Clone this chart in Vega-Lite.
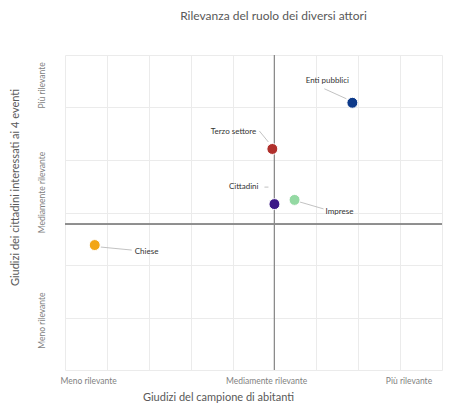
{
  "$schema": "https://vega.github.io/schema/vega-lite/v6.json",
  "autosize": "none",
  "width": 377,
  "height": 315,
  "padding": {"left": 65, "top": 55, "right": 8, "bottom": 36},
  "background": "white",
  "config": {
    "view": {"stroke": null},
    "font": "Lato",
    "axis": {"labelFont": "Lato", "titleFont": "Lato"}
  },
  "title": {
    "text": "Rilevanza del ruolo dei diversi attori",
    "fontSize": 12,
    "fontWeight": "normal",
    "color": "#595959",
    "font": "Lato",
    "offset": 32,
    "dx": 20
  },
  "data": {
    "values": [
      {"attore": "Enti pubblici", "x": 1.86, "y": 5.09},
      {"attore": "Terzo settore", "x": -0.05, "y": 4.21},
      {"attore": "Cittadini", "x": 0.0, "y": 3.16},
      {"attore": "Imprese", "x": 0.48, "y": 3.24},
      {"attore": "Chiese", "x": -4.29, "y": 2.38}
    ]
  },
  "resolve": {"axis": {"x": "independent", "y": "independent"}},
  "layer": [
    {
      "mark": {"type": "point", "opacity": 0},
      "encoding": {
        "x": {"field": "x", "type": "quantitative", "scale": {"domain": [-5, 4], "nice": false, "zero": false},
          "axis": {"orient": "top", "values": [-5,-4,-3,-2,-1,0,1,2,3,4], "grid": true, "gridColor": "#ebebeb", "labels": false, "ticks": false, "domain": false, "title": null}},
        "y": {"field": "y", "type": "quantitative", "scale": {"domain": [0, 6], "nice": false, "zero": false},
          "axis": {"orient": "right", "values": [0,1,2,3,4,5,6], "grid": true, "gridColor": "#ebebeb", "labels": false, "ticks": false, "domain": false, "title": null}}
      }
    },
    {
      "mark": {"type": "rule", "color": "#8c8c8c", "strokeWidth": 1},
      "encoding": {"x": {"datum": 0, "type": "quantitative", "axis": null}}
    },
    {
      "mark": {"type": "rule", "color": "#8c8c8c", "strokeWidth": 1},
      "encoding": {"y": {"datum": 2.78, "type": "quantitative", "axis": null}}
    },
    {
      "transform": [{"filter": "datum.attore == 'Enti pubblici'"}],
      "mark": {"type": "rule", "color": "#b3b3b3", "strokeWidth": 0.8, "xOffset": -28, "yOffset": -14, "x2Offset": -6, "y2Offset": -4},
      "encoding": {"x": {"field": "x", "type": "quantitative", "axis": null}, "y": {"field": "y", "type": "quantitative", "axis": null}, "x2": {"field": "x"}, "y2": {"field": "y"}}
    },
    {
      "transform": [{"filter": "datum.attore == 'Terzo settore'"}],
      "mark": {"type": "rule", "color": "#b3b3b3", "strokeWidth": 0.8, "xOffset": -13, "yOffset": -18, "x2Offset": -4, "y2Offset": -7},
      "encoding": {"x": {"field": "x", "type": "quantitative", "axis": null}, "y": {"field": "y", "type": "quantitative", "axis": null}, "x2": {"field": "x"}, "y2": {"field": "y"}}
    },
    {
      "transform": [{"filter": "datum.attore == 'Cittadini'"}],
      "mark": {"type": "rule", "color": "#b3b3b3", "strokeWidth": 0.8, "xOffset": -10, "yOffset": -17, "x2Offset": -6, "y2Offset": -17},
      "encoding": {"x": {"field": "x", "type": "quantitative", "axis": null}, "y": {"field": "y", "type": "quantitative", "axis": null}, "x2": {"field": "x"}, "y2": {"field": "y"}}
    },
    {
      "transform": [{"filter": "datum.attore == 'Imprese'"}],
      "mark": {"type": "rule", "color": "#b3b3b3", "strokeWidth": 0.8, "xOffset": 5, "yOffset": 2, "x2Offset": 29, "y2Offset": 9},
      "encoding": {"x": {"field": "x", "type": "quantitative", "axis": null}, "y": {"field": "y", "type": "quantitative", "axis": null}, "x2": {"field": "x"}, "y2": {"field": "y"}}
    },
    {
      "transform": [{"filter": "datum.attore == 'Chiese'"}],
      "mark": {"type": "rule", "color": "#b3b3b3", "strokeWidth": 0.8, "xOffset": 6, "yOffset": 2, "x2Offset": 37, "y2Offset": 5},
      "encoding": {"x": {"field": "x", "type": "quantitative", "axis": null}, "y": {"field": "y", "type": "quantitative", "axis": null}, "x2": {"field": "x"}, "y2": {"field": "y"}}
    },
    {
      "mark": {"type": "circle", "size": 120, "opacity": 1, "stroke": "white", "strokeWidth": 1},
      "encoding": {
        "x": {"field": "x", "type": "quantitative",
          "axis": {"orient": "bottom", "values": [-4.45, -0.2, 3.2], "grid": false, "ticks": false, "domain": false,
            "labelExpr": "datum.value < -4 ? 'Meno rilevante' : datum.value < 0 ? 'Mediamente rilevante' : 'Più rilevante'",
            "labelFontSize": 8.5, "labelColor": "#7f7f7f", "labelPadding": 6,
            "title": "Giudizi del campione di abitanti", "titleFontSize": 11, "titleFontWeight": "normal", "titleColor": "#595959",
            "titleX": 153, "titleY": 27, "titleBaseline": "middle", "titleAnchor": null}},
        "y": {"field": "y", "type": "quantitative",
          "axis": {"orient": "left", "values": [0.95, 3.39, 5.43], "grid": false, "ticks": false, "domain": false,
            "labelExpr": "datum.value < 2 ? 'Meno rilevante' : datum.value < 4 ? 'Mediamente rilevante' : 'Più rilevante'",
            "labelAngle": -90, "labelAlign": "center", "labelBaseline": "bottom", "labelPadding": 19,
            "labelFontSize": 8.5, "labelColor": "#7f7f7f",
            "title": "Giudizi dei cittadini interessati ai 4 eventi", "titleFontSize": 11, "titleFontWeight": "normal", "titleColor": "#595959",
            "titleX": -50, "titleY": 132, "titleAngle": -90, "titleAlign": "center", "titleBaseline": "middle"}},
        "color": {"field": "attore", "type": "nominal", "legend": null,
          "scale": {"domain": ["Enti pubblici", "Terzo settore", "Cittadini", "Imprese", "Chiese"],
                    "range": ["#0d3a8a", "#b0302c", "#3b1787", "#94d9a3", "#f2a516"]}}
      }
    },
    {
      "transform": [{"filter": "datum.attore == 'Enti pubblici'"}],
      "mark": {"type": "text", "fontSize": 8, "color": "#333333", "align": "center", "dx": -25, "dy": -22},
      "encoding": {"x": {"field": "x", "type": "quantitative", "axis": null}, "y": {"field": "y", "type": "quantitative", "axis": null}, "text": {"field": "attore"}}
    },
    {
      "transform": [{"filter": "datum.attore == 'Terzo settore' || datum.attore == 'Cittadini'"}],
      "mark": {"type": "text", "fontSize": 8, "color": "#333333", "align": "right", "dx": -16, "dy": -17},
      "encoding": {"x": {"field": "x", "type": "quantitative", "axis": null}, "y": {"field": "y", "type": "quantitative", "axis": null}, "text": {"field": "attore"}}
    },
    {
      "transform": [{"filter": "datum.attore == 'Imprese'"}],
      "mark": {"type": "text", "fontSize": 8, "color": "#333333", "align": "left", "dx": 31, "dy": 12},
      "encoding": {"x": {"field": "x", "type": "quantitative", "axis": null}, "y": {"field": "y", "type": "quantitative", "axis": null}, "text": {"field": "attore"}}
    },
    {
      "transform": [{"filter": "datum.attore == 'Chiese'"}],
      "mark": {"type": "text", "fontSize": 8, "color": "#333333", "align": "left", "dx": 40, "dy": 7},
      "encoding": {"x": {"field": "x", "type": "quantitative", "axis": null}, "y": {"field": "y", "type": "quantitative", "axis": null}, "text": {"field": "attore"}}
    }
  ]
}
